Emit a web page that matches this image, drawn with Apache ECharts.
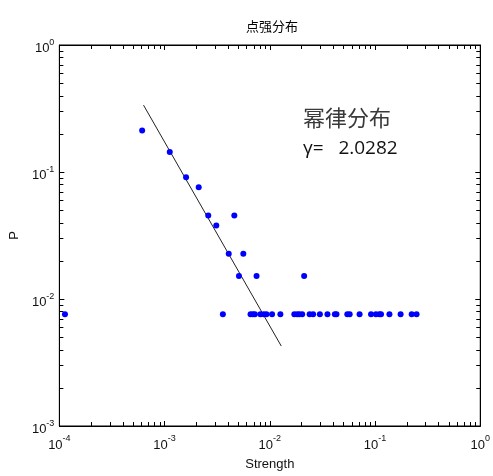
<!DOCTYPE html>
<html>
<head>
<meta charset="utf-8">
<script src="https://cdn.jsdelivr.net/npm/echarts@6/dist/echarts.min.js"></script>
<style>html,body{margin:0;padding:0;background:#fff}#c{width:493px;height:476px}</style>
</head>
<body>
<div id="c"></div>
<script>
// ---- data ----
const titleText = '点强分布';
const xName = 'Strength';
const yName = 'P';
const annoTitle = '幂律分布';
const annoGamma = 'γ=   2.0282';
const xTickExps = [-4, -3, -2, -1, 0];
const yTickExps = [-3, -2, -1, 0];

// upper scattered points
const upperStrength = [6.12e-4, 1.12e-3, 1.60e-3, 2.11e-3, 2.60e-3, 3.10e-3, 4.60e-3, 4.07e-3, 5.60e-3, 5.09e-3, 7.48e-3, 0.0212];
const upperP        = [0.212,   0.144,   0.0909,  0.0758,  0.0455,  0.0379,  0.0455,  0.0227,  0.0227,  0.0152,  0.0152,  0.0152];
// bottom row points (P ≈ 0.00758)
const lowStrength = [1.13e-4, 3.58e-3, 6.56e-3, 6.90e-3, 7.21e-3, 8.14e-3, 8.77e-3, 9.29e-3, 0.0105, 0.0126,
  0.0171, 0.0182, 0.0191, 0.0203, 0.0239, 0.0258, 0.0299, 0.0353, 0.0415, 0.0430,
  0.0545, 0.0574, 0.0713, 0.0916, 0.102, 0.110, 0.114, 0.137, 0.175, 0.223, 0.248];
const lowP = 0.00758;
// fitted line end points
const fitStrength = [6.31e-4, 0.01285];
const fitP = [0.336, 0.00426];

const X_MIN = 1e-4, X_MAX = 1, Y_MIN = 1e-3, Y_MAX = 1;

const points = upperStrength.map((s, i) => [s, upperP[i]])
  .concat(lowStrength.map(s => [s, lowP]));
const fitLine = fitStrength.map((s, i) => [s, fitP[i]]);

const richX = {
  b: {fontSize: 13, fontFamily: 'Liberation Sans, Arial', color: '#111', padding: [9, 0, 0, 0]},
  e: {fontSize: 9, fontFamily: 'Liberation Sans, Arial', color: '#111', padding: [0, 0, 4, 0]}
};
const richY = {
  b: {fontSize: 13, fontFamily: 'Liberation Sans, Arial', color: '#111', padding: [6, 0, 0, 0]},
  e: {fontSize: 9, fontFamily: 'Liberation Sans, Arial', color: '#111', padding: [0, 0, 4, 0]}
};
function fmt(v) {
  const e = Math.round(Math.log10(v));
  return '{b|10}{e|' + e + '}';
}

const chart = echarts.init(document.getElementById('c'), null, {renderer: 'canvas'});
const grid = {left: 58, right: 10, top: 45, bottom: 47, show: true, borderColor: '#000', borderWidth: 1, backgroundColor: '#fff'};
const common = {
  type: 'log', logBase: 10, splitLine: {show: false},
  axisLine: {show: true, lineStyle: {color: '#000', width: 1}},
  axisTick: {show: true, inside: true, length: 5, lineStyle: {color: '#000'}},
  minorTick: {show: false}
};
chart.setOption({
  animation: false,
  backgroundColor: '#fff',
  title: {text: titleText, left: 267, top: 15, textAlign: 'center',
    textStyle: {fontSize: 13, fontWeight: 'normal', color: '#000', fontFamily: 'Noto Sans CJK SC'}},
  grid: grid,
  xAxis: [
    Object.assign({}, common, {min: X_MIN, max: X_MAX, position: 'bottom',
      name: xName, nameLocation: 'middle', nameGap: 32,
      nameTextStyle: {fontSize: 13, color: '#111', fontFamily: 'Liberation Sans, Arial'},
      axisLabel: {formatter: fmt, rich: richX, margin: 4, showMinLabel: true, showMaxLabel: true}}),
    Object.assign({}, common, {min: X_MIN, max: X_MAX, position: 'top', axisLabel: {show: false}})
  ],
  yAxis: [
    Object.assign({}, common, {min: Y_MIN, max: Y_MAX, position: 'left',
      name: yName, nameLocation: 'middle', nameGap: 38, nameRotate: 90,
      nameTextStyle: {fontSize: 13, color: '#111', fontFamily: 'Liberation Sans, Arial'},
      axisLabel: {formatter: fmt, rich: richY, margin: 5, showMinLabel: true, showMaxLabel: true}}),
    Object.assign({}, common, {min: Y_MIN, max: Y_MAX, position: 'right', axisLabel: {show: false}})
  ],
  series: [
    {type: 'line', data: fitLine, symbol: 'none', lineStyle: {color: '#222', width: 1}, z: 2},
    {type: 'scatter', data: points, symbol: 'circle', symbolSize: 6, itemStyle: {color: '#0000ff', opacity: 1}, z: 3}
  ]
});

// minor ticks placed through the axes' own scales
function buildMinor() {
  const els = [];
  const L = 4;
  const yTop = chart.convertToPixel({yAxisIndex: 0}, Y_MAX);
  const yBot = chart.convertToPixel({yAxisIndex: 0}, Y_MIN);
  const xLeft = chart.convertToPixel({xAxisIndex: 0}, X_MIN);
  const xRight = chart.convertToPixel({xAxisIndex: 0}, X_MAX);
  const line = (x1, y1, x2, y2) => ({type: 'line', silent: true, z: 10,
    shape: {x1: x1, y1: y1, x2: x2, y2: y2}, style: {stroke: '#000', lineWidth: 1}});
  for (let e = xTickExps[0]; e < xTickExps[xTickExps.length - 1]; e++) {
    for (let k = 2; k <= 9; k++) {
      const px = Math.round(chart.convertToPixel({xAxisIndex: 0}, k * Math.pow(10, e))) + 0.5;
      els.push(line(px, yBot, px, yBot - L));
      els.push(line(px, yTop, px, yTop + L));
    }
  }
  for (let e = yTickExps[0]; e < yTickExps[yTickExps.length - 1]; e++) {
    for (let k = 2; k <= 9; k++) {
      const py = Math.round(chart.convertToPixel({yAxisIndex: 0}, k * Math.pow(10, e))) + 0.5;
      els.push(line(xLeft, py, xLeft + L, py));
      els.push(line(xRight, py, xRight - L, py));
    }
  }
  // annotation texts
  els.push({type: 'text', left: 303, top: 107, z: 20,
    style: {text: annoTitle, fontSize: 22, fontFamily: 'Noto Sans CJK SC', fill: '#3a3a3a'}});
  els.push({type: 'text', left: 303, top: 139, z: 20,
    style: {text: annoGamma, fontSize: 19, fontFamily: 'Open Sans, Noto Sans', fill: '#111'}});
  chart.setOption({graphic: els});
}
buildMinor();
</script>
</body>
</html>
